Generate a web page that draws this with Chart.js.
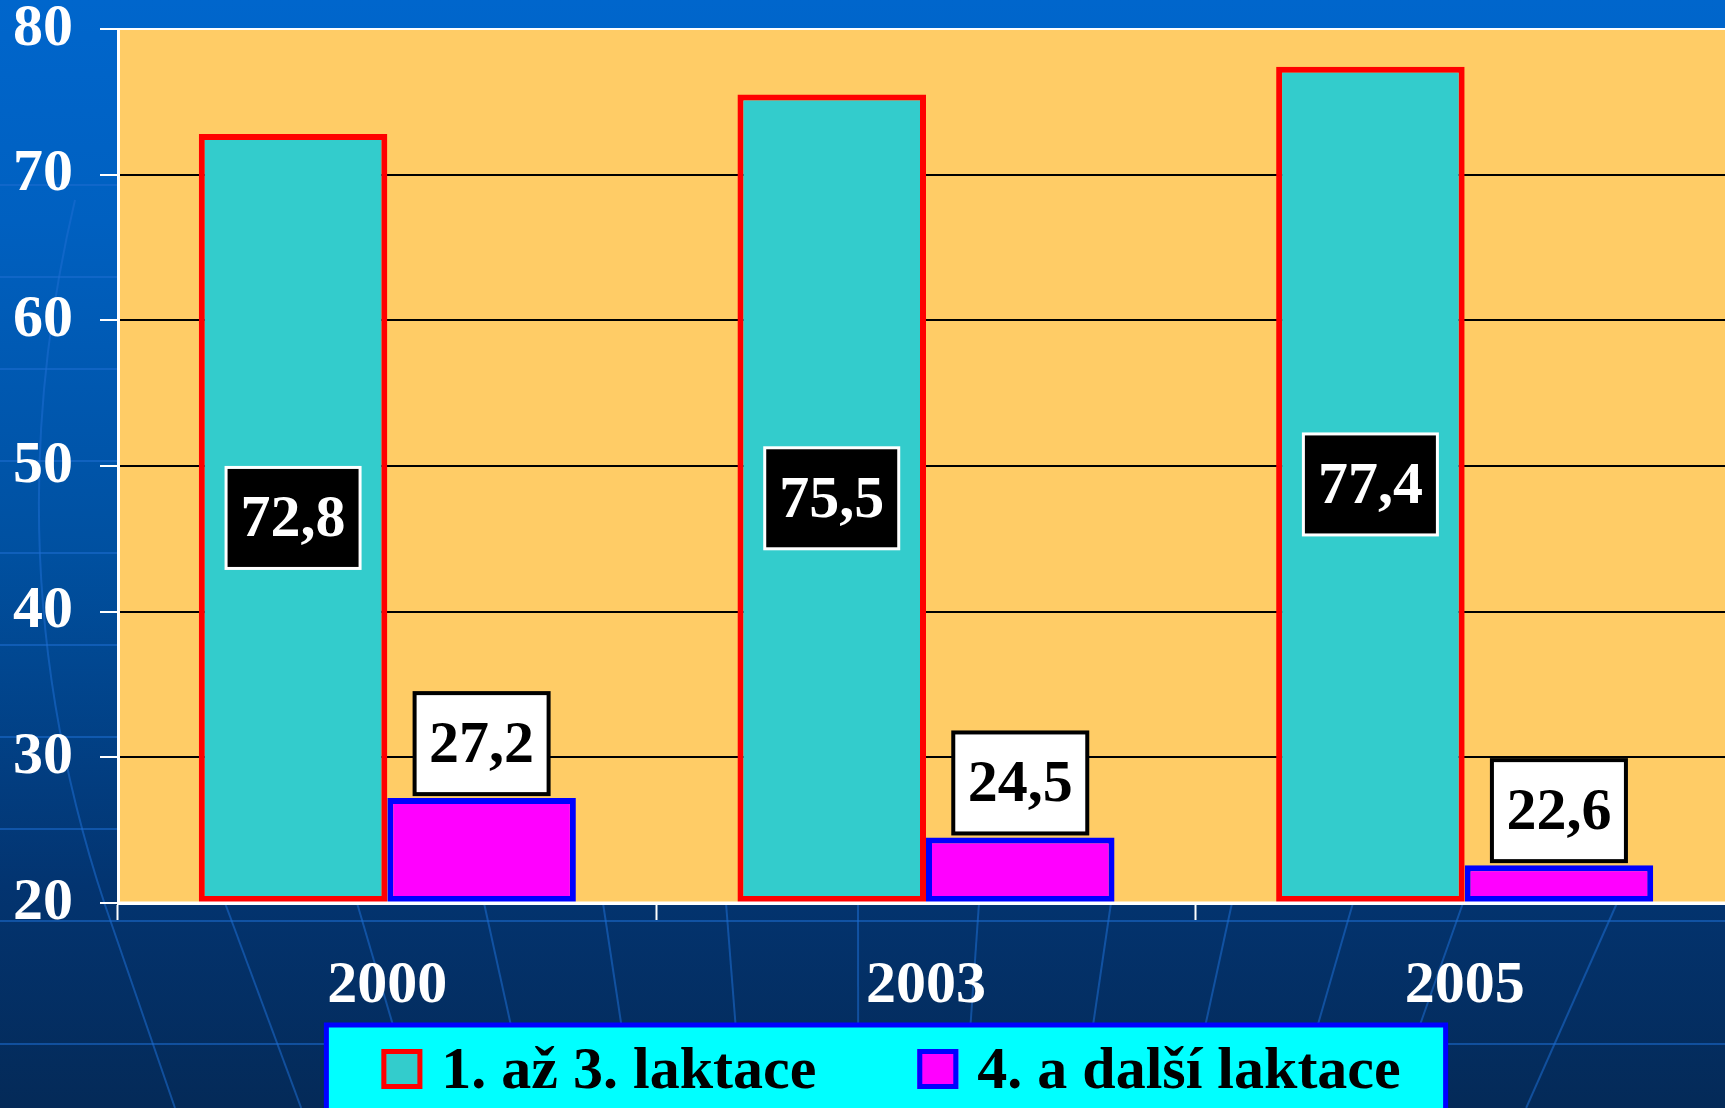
<!DOCTYPE html>
<html lang="cs">
<head>
<meta charset="UTF-8">
<title>Laktace</title>
<style>
  html, body { margin: 0; padding: 0; overflow: hidden; background: #043060; }
  #wrap { width: 1734px; height: 1108px; }
</style>
</head>
<body>
<div id="wrap"><canvas id="myChart" width="1734" height="1108"></canvas></div>
<script src="https://cdn.jsdelivr.net/npm/chart.js"></script>
<script>
const years = ['2000', '2003', '2005'];
const firstToThird = [72.8, 75.5, 77.4];
const fourthAndMore = [27.2, 24.5, 22.6];
const yTicks = [20, 30, 40, 50, 60, 70, 80];
const seriesNames = ['1. až 3. laktace', '4. a další laktace'];

const FONT = '"Liberation Serif", "Times New Roman", serif';
const SIZE = 60;
const fmt = v => v.toFixed(1).replace('.', ',');

// blue slide background + orange plot area
const backdrop = {
  id: 'backdrop',
  beforeDraw(chart) {
    const c = chart.ctx, a = chart.chartArea;
    const g = c.createLinearGradient(0, 0, 0, chart.height);
    g.addColorStop(0, '#0066CC');
    g.addColorStop(0.2, '#0060C0');
    g.addColorStop(0.5, '#0050A0');
    g.addColorStop(0.8, '#033470');
    g.addColorStop(1, '#042A58');
    c.save();
    c.fillStyle = g;
    c.fillRect(0, 0, chart.width, chart.height);

    // faint grid of the template
    c.strokeStyle = 'rgba(30,110,210,0.55)';
    c.lineWidth = 2;
    for (let y = 185; y < a.bottom; y += 92) {
      c.beginPath(); c.moveTo(0, y); c.lineTo(chart.width, y); c.stroke();
    }
    [a.bottom + 18, a.bottom + 141].forEach(y => {
      c.beginPath(); c.moveTo(0, y); c.lineTo(chart.width, y); c.stroke();
    });
    [225, 357, 484, 603, 726, 858, 979, 1111, 1232, 1353, 1463, 1617].forEach(x => {
      c.beginPath();
      c.moveTo(x, a.bottom);
      c.lineTo(x + (860 - x) * 0.12, chart.height);
      c.stroke();
    });
    c.beginPath();
    c.moveTo(75, 200);
    c.quadraticCurveTo(-10, 560, 105, 905);
    c.lineTo(175, chart.height);
    c.stroke();

    c.fillStyle = '#FFCC66';
    c.fillRect(a.left, a.top, a.right - a.left, a.bottom - a.top);
    c.restore();
  }
};

// value boxes + axis line over the bars
const valueBoxes = {
  id: 'valueBoxes',
  afterDatasetsDraw(chart) {
    const c = chart.ctx, a = chart.chartArea;
    c.save();
    c.strokeStyle = '#FFFFFF';
    c.lineWidth = 3;
    c.beginPath(); c.moveTo(a.left, a.bottom); c.lineTo(a.right, a.bottom); c.stroke();

    c.font = 'bold ' + SIZE + 'px ' + FONT;
    c.textAlign = 'center';
    c.textBaseline = 'middle';
    chart.data.datasets.forEach((ds, di) => {
      chart.getDatasetMeta(di).data.forEach((bar, i) => {
        const txt = fmt(ds.data[i]);
        const w = 134, h = 101;
        let cx = bar.x, cy;
        if (di === 0) {
          cy = (bar.y + Math.min(bar.base, a.bottom)) / 2;
          c.fillStyle = '#000000';
          c.strokeStyle = '#FFFFFF';
          c.lineWidth = 3;
        } else {
          cy = bar.y - 4 - h / 2;
          c.fillStyle = '#FFFFFF';
          c.strokeStyle = '#000000';
          c.lineWidth = 4;
        }
        c.fillRect(cx - w / 2, cy - h / 2, w, h);
        c.strokeRect(cx - w / 2, cy - h / 2, w, h);
        c.fillStyle = di === 0 ? '#FFFFFF' : '#000000';
        c.fillText(txt, cx, cy + 3);
      });
    });
    c.restore();
  }
};

// cyan legend panel
const legendPanel = {
  id: 'legendPanel',
  afterDraw(chart) {
    const c = chart.ctx, a = chart.chartArea;
    c.save();
    c.font = 'bold ' + SIZE + 'px ' + FONT;
    const box = 41, gap = 19, between = 101, padL = 55, padR = 45;
    const widths = chart.data.datasets.map(ds => c.measureText(ds.label).width);
    const total = padL + widths.reduce((s, w) => s + box + gap + w, 0) + between * (widths.length - 1) + padR;
    const left = a.left + 768 - total / 2;
    const top = a.bottom + 122;
    c.fillStyle = '#00FFFF';
    c.fillRect(left, top, total, chart.height - top + 20);
    c.strokeStyle = '#0000FF';
    c.lineWidth = 5;
    c.strokeRect(left, top, total, chart.height - top + 20);

    const cy = top + 44;
    let x = left + padL;
    chart.data.datasets.forEach((ds, i) => {
      c.fillStyle = ds.backgroundColor;
      c.fillRect(x, cy - 20, box, 40);
      c.strokeStyle = ds.borderColor;
      c.lineWidth = 5;
      c.strokeRect(x + 2.5, cy - 17.5, box - 5, 35);
      x += box + gap;
      c.fillStyle = '#000000';
      c.textBaseline = 'middle';
      c.textAlign = 'left';
      c.fillText(ds.label, x, cy + 3);
      x += widths[i] + between;
    });
    c.restore();
  }
};

const tickFont = { family: FONT, size: SIZE, weight: 'bold', lineHeight: 1 };

new Chart(document.getElementById('myChart'), {
  type: 'bar',
  data: {
    labels: years,
    datasets: [
      {
        label: seriesNames[0],
        data: firstToThird,
        backgroundColor: '#33CCCC',
        borderColor: '#FF0000',
        borderWidth: 6,
        borderSkipped: false,
        base: yTicks[0]
      },
      {
        label: seriesNames[1],
        data: fourthAndMore,
        backgroundColor: '#FF00FF',
        borderColor: '#0000FF',
        borderWidth: 6,
        borderSkipped: false,
        base: yTicks[0]
      }
    ]
  },
  options: {
    responsive: false,
    animation: false,
    categoryPercentage: 0.7,
    barPercentage: 1.0,
    layout: { padding: { left: 0, top: 0, right: 0, bottom: 97 } },
    plugins: {
      legend: { display: false },
      tooltip: { enabled: false }
    },
    scales: {
      x: {
        afterFit: s => { s.height = 108; s.paddingLeft = 0; s.paddingRight = 0; },
        grid: {
          drawOnChartArea: false,
          drawTicks: true,
          tickLength: 17,
          tickColor: '#FFFFFF',
          tickWidth: 2,
          offset: true
        },
        border: { color: '#FFFFFF', width: 3 },
        ticks: { color: '#FFFFFF', font: tickFont, padding: 36 }
      },
      y: {
        min: yTicks[0],
        max: yTicks[yTicks.length - 1],
        afterBuildTicks: axis => { axis.ticks = yTicks.map(v => ({ value: v })); },
        afterFit: s => { s.width = 118; s.paddingTop = 29; s.paddingBottom = 29; },
        grid: {
          color: ctx => (ctx.tick && (ctx.tick.value === 80 || ctx.tick.value === 20)) ? '#FFFFFF' : '#000000',
          lineWidth: 2,
          tickColor: '#FFFFFF',
          tickLength: 18,
          tickWidth: 2
        },
        border: { color: '#FFFFFF', width: 3 },
        ticks: { color: '#FFFFFF', font: tickFont, padding: 27 }
      }
    }
  },
  plugins: [backdrop, valueBoxes, legendPanel]
});
</script>
</body>
</html>
